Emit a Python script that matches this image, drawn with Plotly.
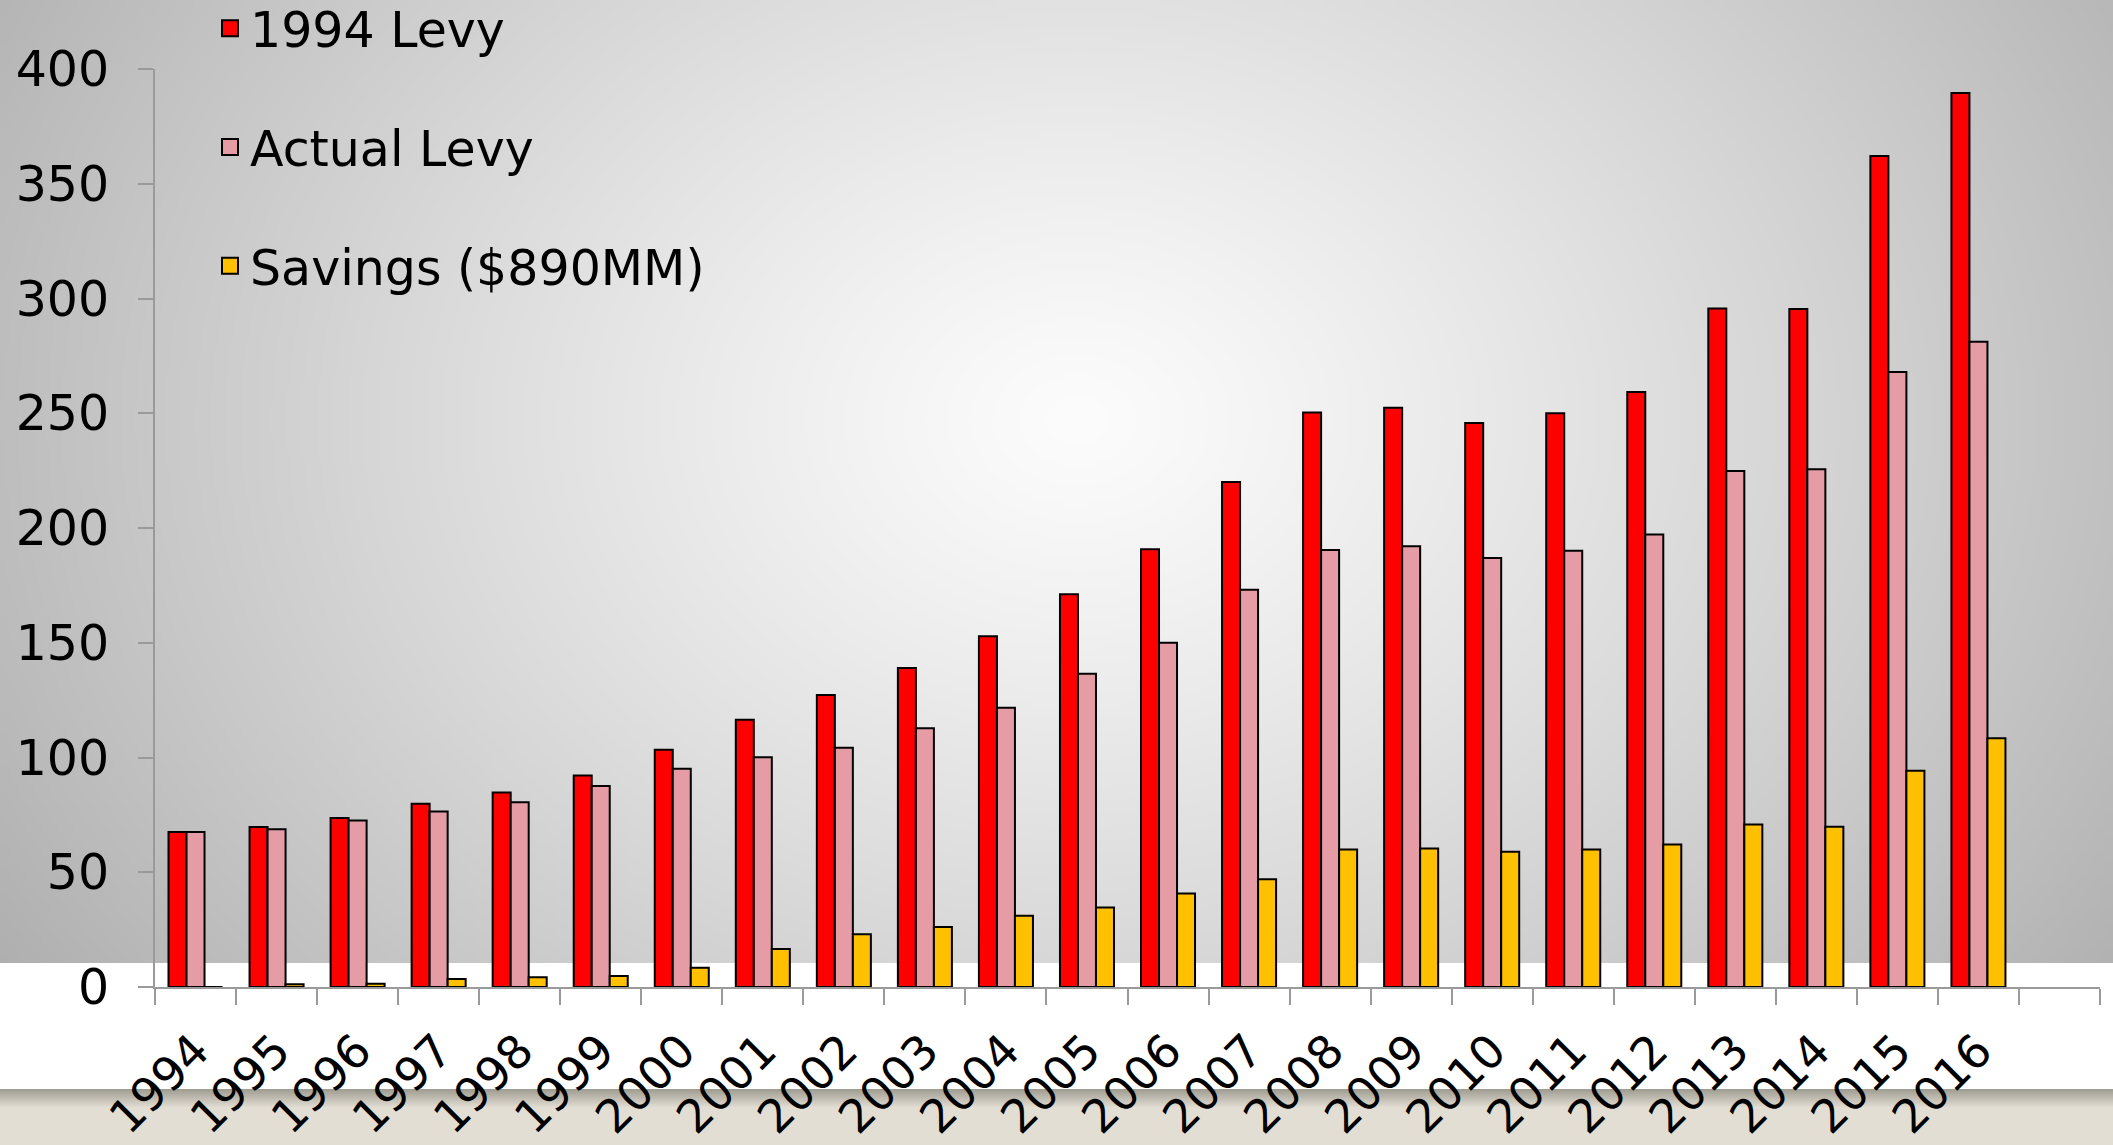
import base64, struct, zlib
import numpy as np
import plotly.graph_objects as go

# ---------------- data ----------------
years = list(range(1994, 2017))
year_labels = [str(y) for y in years]
levy_1994 = [67.5, 69.7, 73.6, 79.9, 84.7, 92.2, 103.4, 116.5, 127.2, 139.0, 152.8, 171.1,
             190.7, 220.0, 250.3, 252.4, 245.8, 250.0, 259.3, 295.6, 295.4, 362.1, 389.5]
actual_levy = [67.5, 68.7, 72.5, 76.5, 80.5, 87.6, 95.1, 100.1, 104.3, 112.7, 121.7, 136.5,
               150.0, 173.1, 190.4, 192.0, 186.9, 190.1, 197.2, 224.8, 225.6, 268.0, 281.2]
savings = [0, 1.2, 1.4, 3.5, 4.2, 4.8, 8.4, 16.6, 23.0, 26.1, 31.1, 34.6,
           40.7, 46.9, 59.9, 60.4, 58.9, 59.9, 62.1, 70.8, 69.8, 94.2, 108.4]
y_ticks = [0, 50, 100, 150, 200, 250, 300, 350, 400]
series_names = ["1994 Levy", "Actual Levy", "Savings ($890MM)"]
series_colors = ["#FF0000", "#E59CA5", "#FFC000"]

# ---------------- geometry ----------------
W, H = 2113, 1145
L, R, T, B = 155, 13, 69, 158
PW, PH = W - L - R, H - T - B
FONT = "DejaVu Sans, Verdana, sans-serif"


def png_uri(arr):
    h, w, _ = arr.shape
    raw = b"".join(b"\x00" + arr[i].tobytes() for i in range(h))

    def chunk(t, d):
        return struct.pack(">I", len(d)) + t + d + struct.pack(">I", zlib.crc32(t + d) & 0xFFFFFFFF)

    png = (b"\x89PNG\r\n\x1a\n" + chunk(b"IHDR", struct.pack(">IIBBBBB", w, h, 8, 2, 0, 0, 0))
           + chunk(b"IDAT", zlib.compress(raw, 9)) + chunk(b"IEND", b""))
    return "data:image/png;base64," + base64.b64encode(png).decode()


# radial grey background (top region, 0..963 px)
GH = 963
sw, sh = 529, 241
xs = (np.arange(sw) + 0.5) * W / sw
ys = (np.arange(sh) + 0.5) * GH / sh
X, Y = np.meshgrid(xs, ys)
d = np.sqrt(((X - 1078) / 1400) ** 2 + ((Y - 420) / 1100) ** 2)
c = np.clip(252 - 85 * d ** 1.2, 160, 252).astype(np.uint8)
grey = np.dstack([c, c, c])
grey_uri = png_uri(grey)

# beige band at bottom
BH = 56
band = np.zeros((BH, 4, 3), dtype=np.float64)
top_col = np.array([160, 157, 146.0])
bot_col = np.array([227, 222, 211.0])
for i in range(BH):
    t = min(i / 18.0, 1.0)
    band[i, :, :] = top_col + (bot_col - top_col) * t
band_uri = png_uri(band.astype(np.uint8))

fig = go.Figure()
for name, vals, col in zip(series_names, [levy_1994, actual_levy, savings], series_colors):
    fig.add_trace(go.Bar(x=years, y=vals, name=name, marker=dict(color=col, line=dict(color="black", width=2)),
                         showlegend=False))
for i, (name, col) in enumerate(zip(series_names, series_colors)):
    fig.add_trace(go.Scatter(x=[None], y=[None], mode="markers", name=name, legendgroup=f"g{i}",
                             marker=dict(symbol="square", size=16, color=col, line=dict(color="black", width=2))))


def px_x(p):
    return (p - L) / PW


def px_y(p):
    return (H - B - p) / PH


fig.update_layout(
    width=W, height=H, autosize=False,
    margin=dict(l=L, r=R, t=T, b=B, pad=0, autoexpand=False),
    paper_bgcolor="white", plot_bgcolor="rgba(0,0,0,0)",
    barmode="group", bargap=1 / 3, bargroupgap=0,
    font=dict(family=FONT, size=48, color="black"),
    images=[
        dict(source=grey_uri, xref="paper", yref="paper", x=px_x(0), y=px_y(0), sizex=W / PW, sizey=GH / PH,
             xanchor="left", yanchor="top", sizing="stretch", layer="below"),
        dict(source=band_uri, xref="paper", yref="paper", x=px_x(0), y=px_y(1089), sizex=W / PW, sizey=BH / PH,
             xanchor="left", yanchor="top", sizing="stretch", layer="below"),
    ],
    legend=dict(x=px_x(210), y=px_y(-10), xanchor="left", yanchor="top", bgcolor="rgba(0,0,0,0)",
                font=dict(family=FONT, size=49, color="black"), traceorder="grouped", tracegroupgap=52,
                itemsizing="trace"),
    xaxis=dict(range=[1993.5, 2017.5], tickmode="array", tickvals=years, ticktext=year_labels,
               tickangle=-45, ticks="outside", ticklen=0, tickcolor="rgba(0,0,0,0)",
               showline=True, linecolor="#9A9A9A", linewidth=2, showgrid=False, zeroline=False,
               tickfont=dict(family=FONT, size=46, color="black"), ticklabelstandoff=16,
               minor=dict(ticks="outside", ticklen=16, tickwidth=2, tickcolor="#9A9A9A",
                          tick0=1993.5, dtick=1, showgrid=False)),
    yaxis=dict(range=[0, 400], tickmode="array", tickvals=y_ticks, ticks="outside", ticklen=15,
               tickwidth=2, tickcolor="#9A9A9A", showline=True, linecolor="#9A9A9A", linewidth=2,
               showgrid=False, zeroline=False, tickfont=dict(family=FONT, size=49, color="black"),
               ticklabelstandoff=19),
)

fig.write_html("out.html", config={"displayModeBar": False},
               post_script="document.body.style.margin='0px';document.body.style.overflow='hidden';")
